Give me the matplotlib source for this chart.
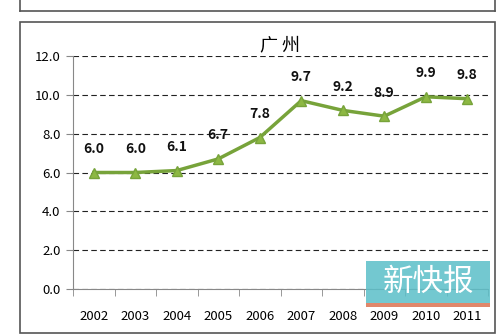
import matplotlib.pyplot as plt
from matplotlib.patches import Rectangle

plt.rcParams['font.family'] = ['Noto Sans CJK SC', 'DejaVu Sans']

years = ['2002', '2003', '2004', '2005', '2006', '2007', '2008', '2009', '2010', '2011']
values = [6.0, 6.0, 6.1, 6.7, 7.8, 9.7, 9.2, 8.9, 9.9, 9.8]
labels = ['6.0', '6.0', '6.1', '6.7', '7.8', '9.7', '9.2', '8.9', '9.9', '9.8']

fig = plt.figure(figsize=(5, 3.35), dpi=100)

# outer frames
fig.patches.append(Rectangle((20 / 500, 2 / 335), 475 / 500, 311 / 335, transform=fig.transFigure,
                             fill=False, edgecolor='#555555', lw=1.2))
fig.lines.append(plt.Line2D([20 / 500, 495 / 500], [1 - 11 / 335, 1 - 11 / 335],
                            transform=fig.transFigure, color='#555555', lw=1.2))
fig.lines.append(plt.Line2D([20 / 500, 20 / 500], [1 - 11 / 335, 1], transform=fig.transFigure,
                            color='#555555', lw=1.2))
fig.lines.append(plt.Line2D([495 / 500, 495 / 500], [1 - 11 / 335, 1], transform=fig.transFigure,
                            color='#555555', lw=1.2))

ax = fig.add_axes([73 / 500, 1 - 289 / 335, 415 / 500, 233 / 335])
x = list(range(len(years)))
ax.plot(x, values, color='#77A33A', lw=2.5, marker='^', markersize=7,
        markerfacecolor='#8DB843', markeredgecolor='#77A33A', zorder=3)
for xi, v, t in zip(x, values, labels):
    ax.annotate(t, (xi, v), xytext=(0, 12), textcoords='offset points', ha='center',
                va='bottom', fontsize=10, fontweight='bold', color='#111111')

ax.set_xlim(-0.5, len(years) - 0.5)
ax.set_ylim(0, 12)
ax.set_yticks([0, 2, 4, 6, 8, 10, 12])
ax.set_yticklabels(['0.0', '2.0', '4.0', '6.0', '8.0', '10.0', '12.0'], fontsize=9.5)
ax.set_xticks(x)
ax.set_xticklabels(years, fontsize=9.5)
ax.set_xticks([i - 0.5 for i in range(len(years) + 1)], minor=True)
ax.tick_params(axis='x', which='major', length=0, pad=15)
ax.tick_params(axis='x', which='minor', length=5, color='#888888')
ax.tick_params(axis='y', length=5, color='#888888', direction='out', pad=4)
ax.yaxis.grid(True, linestyle=(0, (5, 3)), color='#222222', lw=0.8)
for s in ['top', 'right']:
    ax.spines[s].set_visible(False)
ax.spines['left'].set_color('#888888')
ax.spines['bottom'].set_color('#888888')
ax.set_title('广 州', fontsize=13, pad=4)

# watermark logo
fig.patches.append(Rectangle((366 / 500, 1 - 303 / 335), 124 / 500, 42 / 335, transform=fig.transFigure,
                             facecolor='#5BBFC8', edgecolor='none', alpha=0.85, zorder=5))
fig.patches.append(Rectangle((366 / 500, 1 - 307 / 335), 124 / 500, 4 / 335, transform=fig.transFigure,
                             facecolor='#E0876A', edgecolor='none', zorder=5))
fig.text(428 / 500, 1 - 282 / 335, '新快报', ha='center', va='center', fontsize=22,
         color='white', zorder=6)

fig.savefig('out.png', dpi=100)
